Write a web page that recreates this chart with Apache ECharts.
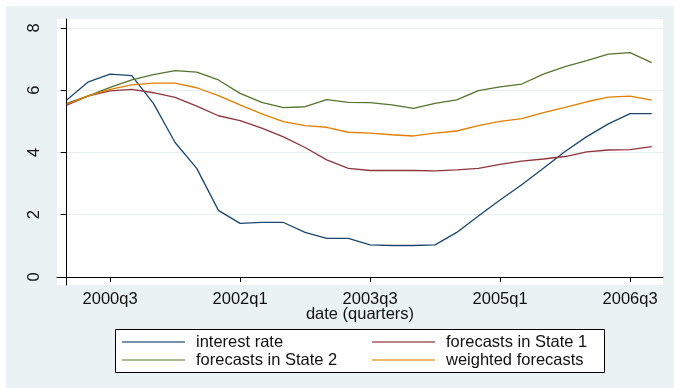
<!DOCTYPE html>
<html>
<head>
<meta charset="utf-8">
<script src="https://cdn.jsdelivr.net/npm/echarts@6/dist/echarts.min.js"></script>
<style>
html,body{margin:0;padding:0;background:#ffffff;}
#chart{position:absolute;left:6px;top:6px;width:668px;height:382px;background:#eaf2f3;}
</style>
</head>
<body>
<div id="chart"></div>
<script>
const quarters = ['2000q1','2000q2','2000q3','2000q4','2001q1','2001q2','2001q3','2001q4',
  '2002q1','2002q2','2002q3','2002q4','2003q1','2003q2','2003q3','2003q4',
  '2004q1','2004q2','2004q3','2004q4','2005q1','2005q2','2005q3','2005q4',
  '2006q1','2006q2','2006q3','2006q4'];
const interestRate = [5.69,6.27,6.52,6.47,5.58,4.32,3.49,2.14,1.72,1.75,1.75,1.43,1.24,1.24,1.03,1.01,1.01,1.03,1.43,1.96,2.47,2.96,3.49,4.03,4.51,4.92,5.25,5.25];
const forecastsState1 = [5.52,5.82,5.98,6.03,5.92,5.77,5.49,5.18,5.02,4.78,4.50,4.16,3.76,3.49,3.42,3.42,3.42,3.41,3.44,3.49,3.62,3.72,3.79,3.87,4.02,4.08,4.09,4.19];
const forecastsState2 = [5.58,5.82,6.09,6.33,6.50,6.63,6.58,6.33,5.90,5.61,5.44,5.47,5.70,5.61,5.60,5.53,5.42,5.58,5.69,5.99,6.11,6.20,6.52,6.76,6.95,7.16,7.21,6.89];
const weightedForecasts = [5.55,5.82,6.03,6.17,6.23,6.23,6.08,5.83,5.53,5.24,4.99,4.86,4.81,4.65,4.62,4.57,4.53,4.62,4.69,4.86,5.00,5.09,5.28,5.45,5.63,5.78,5.81,5.68];
const xTickLabels = ['2000q3','2002q1','2003q3','2005q1','2006q3'];
const yTickValues = [0,2,4,6,8];
const seriesNames = ['interest rate','forecasts in State 1','forecasts in State 2','weighted forecasts'];

const xTickIdx = xTickLabels.map(l => quarters.indexOf(l));
const toPairs = arr => arr.map((v,i) => [i, v]);
const colors = ['#1a476f','#90353b','#55752f','#e37e00'];
const legendColors = ['#4a6d8f','#a85a60','#8ba66a','#eea040'];
const font = 'Liberation Sans, Arial, sans-serif';
const txt = '#111';

const chart = echarts.init(document.getElementById('chart'));
const dataSets = [interestRate, forecastsState1, forecastsState2, weightedForecasts];
const legendBase = {orient: 'vertical', top: 327, padding: 0, itemWidth: 63, itemHeight: 1.5, itemGap: 0,
  icon: 'rect',
  textStyle: {fontSize: 16.5, color: txt, fontFamily: font, padding: [0,0,0,6], lineHeight: 18}};
chart.setOption({
  animation: false,
  textStyle: {fontFamily: font},
  grid: {left: 51, right: 11, top: 13, bottom: 103, show: true, backgroundColor: '#ffffff', borderWidth: 0},
  xAxis: {
    type: 'value', min: -0.45, max: 27.52,
    name: 'date (quarters)', nameLocation: 'middle', nameGap: 21, nameMoveOverlap: false,
    nameTextStyle: {fontSize: 16.5, color: txt, fontFamily: font},
    axisLine: {show: true, lineStyle: {color: '#000', width: 1}},
    axisTick: {show: true, length: 5, customValues: xTickIdx, lineStyle: {color: '#000'}},
    axisLabel: {customValues: xTickIdx, margin: 6, fontSize: 16.5, color: txt, fontFamily: font,
      formatter: v => quarters[Math.round(v)] || ''},
    splitLine: {show: false}
  },
  yAxis: {
    type: 'value', min: -0.26, max: 8.29,
    axisLine: {show: true, lineStyle: {color: '#000', width: 1}},
    axisTick: {show: true, length: 6, customValues: yTickValues, lineStyle: {color: '#000'}},
    axisLabel: {customValues: yTickValues, rotate: 90, margin: 14, fontSize: 16.5, color: txt, fontFamily: font},
    splitLine: {show: true, lineStyle: {color: '#e6eff0', width: 1}}
  },
  legend: [
    Object.assign({}, legendBase, {left: 116, data: [
      {name: seriesNames[0], itemStyle: {color: legendColors[0]}},
      {name: seriesNames[2], itemStyle: {color: legendColors[2]}}]}),
    Object.assign({}, legendBase, {left: 366, data: [
      {name: seriesNames[1], itemStyle: {color: legendColors[1]}},
      {name: seriesNames[3], itemStyle: {color: legendColors[3]}}]})
  ],
  graphic: [{type: 'rect', z: 1, shape: {x: 109.5, y: 323.5, width: 489, height: 43},
    style: {fill: '#ffffff', stroke: '#000000', lineWidth: 1}}],
  series: dataSets.map((d, k) => ({
    name: seriesNames[k], type: 'line', data: toPairs(d), symbol: 'none',
    color: colors[k], lineStyle: {width: 1.3, color: colors[k]}
  }))
});
</script>
</body>
</html>
